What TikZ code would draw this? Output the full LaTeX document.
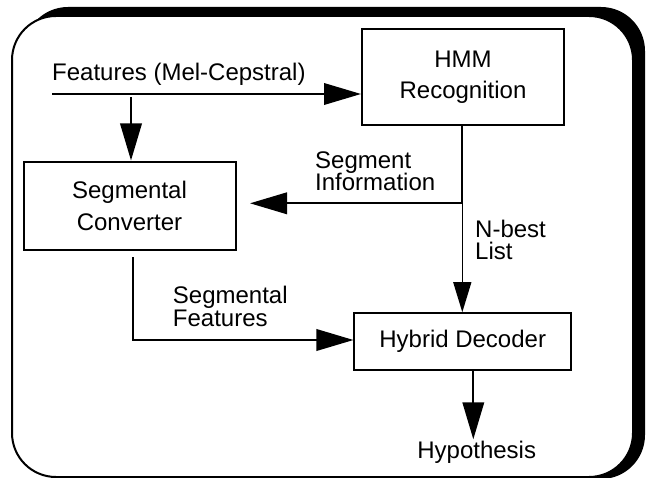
\documentclass[tikz,border=0pt]{standalone}
\usepackage{fontspec}
\setmainfont{Liberation Sans}
\usetikzlibrary{arrows.meta}
\begin{document}
\begin{tikzpicture}[x=1pt,y=-1pt,
  box/.style={draw, line width=2pt, align=center, inner sep=0pt,
    font=\fontsize{24}{31.5}\selectfont},
  lbl/.style={inner sep=0pt, align=left, anchor=north west,
    font=\fontsize{24}{22.5}\selectfont},
  arr/.style={line width=2pt, -{Triangle[length=37pt,width=21.5pt]}},
  arrn/.style={line width=1.3pt, -{Triangle[length=30pt,width=18pt]}},
  plain/.style={line width=2pt}]
\useasboundingbox (0,0) rectangle (647,478);
% frame with shadow
\fill[black, rounded corners=44pt] (24,7) rectangle (645,479);
\draw[line width=2pt, fill=white, rounded corners=44pt] (12,16) rectangle (633,477);
% boxes
\node[box, minimum width=202pt, minimum height=96pt] (hmm) at (463,77) {HMM\\Recognition};
\node[box, minimum width=212pt, minimum height=87pt] (seg) at (129.5,206) {Segmental\\Converter};
\node[box, minimum width=216.5pt, minimum height=57pt] (hyb) at (462.7,341.7) {Hybrid Decoder};
% labels
\node[inner sep=0pt, anchor=base west, font=\fontsize{24}{28}\selectfont] (feat) at (52,81) {Features (Mel-Cepstral)};
\node[lbl] (seginfo) at (315,151.3) {Segment\\Information};
\node[lbl] (nbest) at (475,219.8) {N-best\\List};
\node[lbl] (segfeat) at (172.7,286.3) {Segmental\\Features};
\node[inner sep=0pt, anchor=base, font=\fontsize{24}{28}\selectfont] (hypo) at (476.7,458) {Hypothesis};
% connectors
\coordinate (fstart) at (52,94);
\draw[arr] (fstart) -- (hmm.west |- fstart);
\coordinate (dstart) at (131,97);
\coordinate (dend) at (131,160.5);
\draw[arr] (dstart) -- (dend);
\coordinate (junc) at (462.3,203.3);
\draw[plain] (hmm.south -| junc) -- (junc);
\coordinate (sitip) at (250,203.3);
\draw[arr] (junc) -- (sitip);
\draw[arrn] (junc) -- (junc |- hyb.north);
\coordinate (sfstart) at (133.3,257);
\coordinate (sfcorner) at (133.3,340);
\draw[line width=2pt, -{Triangle[length=37pt,width=21.5pt]}] (sfstart) -- (sfcorner) -- (sfcorner -| hyb.west);
\coordinate (ostart) at (473.3,370);
\coordinate (oend) at (473.3,439.3);
\draw[arr] (hyb.south -| ostart) -- (oend);
\end{tikzpicture}
\end{document}
